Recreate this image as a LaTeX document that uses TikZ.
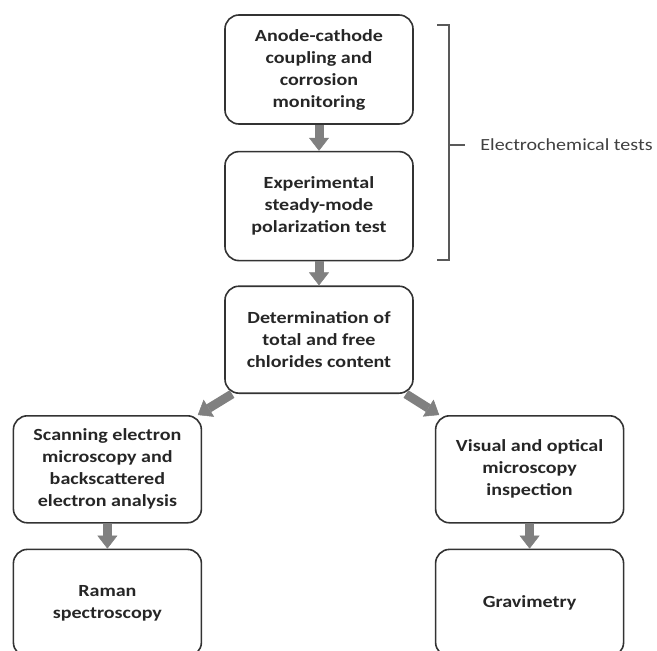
\documentclass[tikz,border=0pt]{standalone}
\usepackage{fontspec}
\setmainfont{Carlito}[FakeStretch=1.18]
\usetikzlibrary{positioning,arrows.meta}
\definecolor{boxline}{gray}{0.2}
\definecolor{arrowgray}{gray}{0.5}

\begin{document}
\begin{tikzpicture}[x=1pt, y=-1pt, node distance={25pt}, thick,
  main/.style = {draw=boxline, line width=1.6pt, rounded corners=14pt, minimum width=188pt, minimum height=107pt, align=center, text=black!85, font=\fontsize{17}{22}\selectfont\bfseries},
  arr/.style = {line width=9pt, draw=arrowgray, -{Triangle[length=13pt,width=20pt,line width=0.5pt]}}]
\useasboundingbox (0,0) rectangle (657,651);
\node[main, minimum height=109pt] (1) at (319,69.5) {Anode-cathode\\coupling and\\corrosion\\monitoring};
\node[main, minimum height=109pt] (2) [below=26pt of 1] {Experimental\\steady-mode\\polarization test};
\node[main] (3) [below=24pt of 2] {Determination of\\total and free\\chlorides content};
\node[main] (4) [below left=21pt and 22pt of 3] {Scanning electron\\microscopy and\\backscattered\\electron analysis};
\node[main] (5) [below right=21pt and 21pt of 3] {Visual and optical\\microscopy\\inspection};
\node[main] (6) [below=25pt of 4] {Raman\\spectroscopy};
\node[main] (7) [below=25pt of 5] {Gravimetry};
\node[anchor=west, inner sep=0pt, text=black!75, font=\fontsize{17}{22}\selectfont] (8) at (480,145) {Electrochemical tests};
\draw[arr] (1) -- (2);
\draw[arr] (2) -- (3);
\draw[arr] (3.212) -- (4.31);
\draw[arr] (3.-32) -- (5.149);
\draw[arr] (4) -- (6);
\draw[arr] (5) -- (7);
\draw[line width=1.2pt, black!65] (437,25) -- (449,25) -- (449,260) -- (437,260);
\draw[line width=1.2pt, black!65] (449,145) -- ([xshift=-15pt]8.west);
\end{tikzpicture}
\end{document}
